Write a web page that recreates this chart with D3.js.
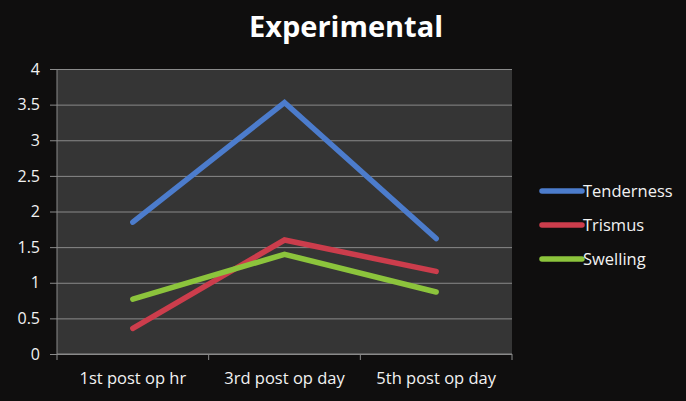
<!DOCTYPE html>
<html>
<head>
<meta charset="utf-8">
<script src="https://cdn.jsdelivr.net/npm/d3@7"></script>
<style>
  body { margin: 0; background: #0f0e0e; }
  svg { display: block; }
</style>
</head>
<body>
<div id="chart"></div>
<script>
const categories = ["1st post op hr", "3rd post op day", "5th post op day"];
const series_names = ["Tenderness", "Trismus", "Swelling"];
const tenderness = [1.85, 3.53, 1.62];
const trismus = [0.36, 1.6, 1.16];
const swelling = [0.77, 1.4, 0.87];
const y_ticks = [0, 0.5, 1, 1.5, 2, 2.5, 3, 3.5, 4];
const colors = ["#4c7ccc", "#cc3d4c", "#8cc43c"];

const all_series = [tenderness, trismus, swelling].map((vals, i) => ({
    name: series_names[i],
    color: colors[i],
    values: vals.map((v, j) => ({ cat: categories[j], value: v }))
}));

const width = 686, height = 401;
const margin = { top: 69, right: 174, bottom: 47, left: 57 };
const plot_w = width - margin.left - margin.right;
const plot_h = height - margin.top - margin.bottom;
const font = "'Open Sans', 'Noto Sans', sans-serif";

const svg = d3.select("#chart")
    .append("svg")
    .attr("width", width)
    .attr("height", height);

svg.append("rect")
    .attr("width", width)
    .attr("height", height)
    .attr("fill", "#0f0e0e");

svg.append("text")
    .attr("x", 346)
    .attr("y", 37)
    .attr("text-anchor", "middle")
    .style("font-family", font)
    .style("font-weight", "bold")
    .style("font-size", "29px")
    .style("fill", "#ffffff")
    .text("Experimental");

const g = svg.append("g")
    .attr("transform", `translate(${margin.left},${margin.top})`);

const x = d3.scalePoint()
    .domain(categories)
    .range([0, plot_w])
    .padding(0.5);

const x_band = d3.scaleBand()
    .domain(categories)
    .range([0, plot_w]);

const y = d3.scaleLinear()
    .domain([0, 4])
    .range([plot_h, 0]);

g.append("rect")
    .attr("width", plot_w)
    .attr("height", plot_h)
    .attr("fill", "#353535");

// gridlines
g.append("g")
    .call(d3.axisLeft(y).tickValues(y_ticks).tickSize(-plot_w).tickFormat(""))
    .call(a => a.select(".domain").remove())
    .selectAll("line")
    .attr("stroke", "#8a8a8a")
    .attr("stroke-width", 1);

// y axis
const y_axis = g.append("g")
    .call(d3.axisLeft(y).tickValues(y_ticks).tickSize(7).tickPadding(10).tickFormat(d3.format("")));
y_axis.select(".domain").attr("stroke", "#8a8a8a").attr("d", `M0,0V${plot_h}`);
y_axis.selectAll("line").attr("stroke", "#8a8a8a");
y_axis.selectAll("text")
    .style("font-family", font)
    .style("font-size", "16px")
    .style("fill", "#f2f2f2");

// x axis
const x_axis = g.append("g")
    .attr("transform", `translate(0,${plot_h})`)
    .call(d3.axisBottom(x_band).tickSize(0).tickPadding(18));
x_axis.select(".domain").attr("stroke", "#8a8a8a").attr("d", `M0,0H${plot_w}`);
x_axis.selectAll("text")
    .style("font-family", font)
    .style("font-size", "16.5px")
    .style("fill", "#f2f2f2");

const x_edges = categories.map(c => x_band(c)).concat([plot_w]);
g.selectAll(".xtick")
    .data(x_edges)
    .enter().append("line")
    .attr("x1", d => d)
    .attr("x2", d => d)
    .attr("y1", plot_h)
    .attr("y2", plot_h + 6)
    .attr("stroke", "#8a8a8a");

const line = d3.line()
    .x(d => x(d.cat))
    .y(d => y(d.value));

g.selectAll(".series")
    .data(all_series)
    .enter().append("path")
    .attr("fill", "none")
    .attr("stroke", d => d.color)
    .attr("stroke-width", 5.5)
    .attr("stroke-linecap", "round")
    .attr("stroke-linejoin", "miter")
    .attr("d", d => line(d.values));

// legend
const legend = svg.append("g")
    .attr("transform", "translate(542,191)");
const rows = legend.selectAll(".row")
    .data(all_series)
    .enter().append("g")
    .attr("transform", (d, i) => `translate(0,${i * 34})`);
rows.append("line")
    .attr("x1", 0)
    .attr("x2", 40)
    .attr("stroke", d => d.color)
    .attr("stroke-width", 5.5)
    .attr("stroke-linecap", "round");
rows.append("text")
    .attr("x", 41)
    .attr("dy", "0.35em")
    .style("font-family", font)
    .style("font-size", "16.5px")
    .style("fill", "#f2f2f2")
    .text(d => d.name);
</script>
</body>
</html>
